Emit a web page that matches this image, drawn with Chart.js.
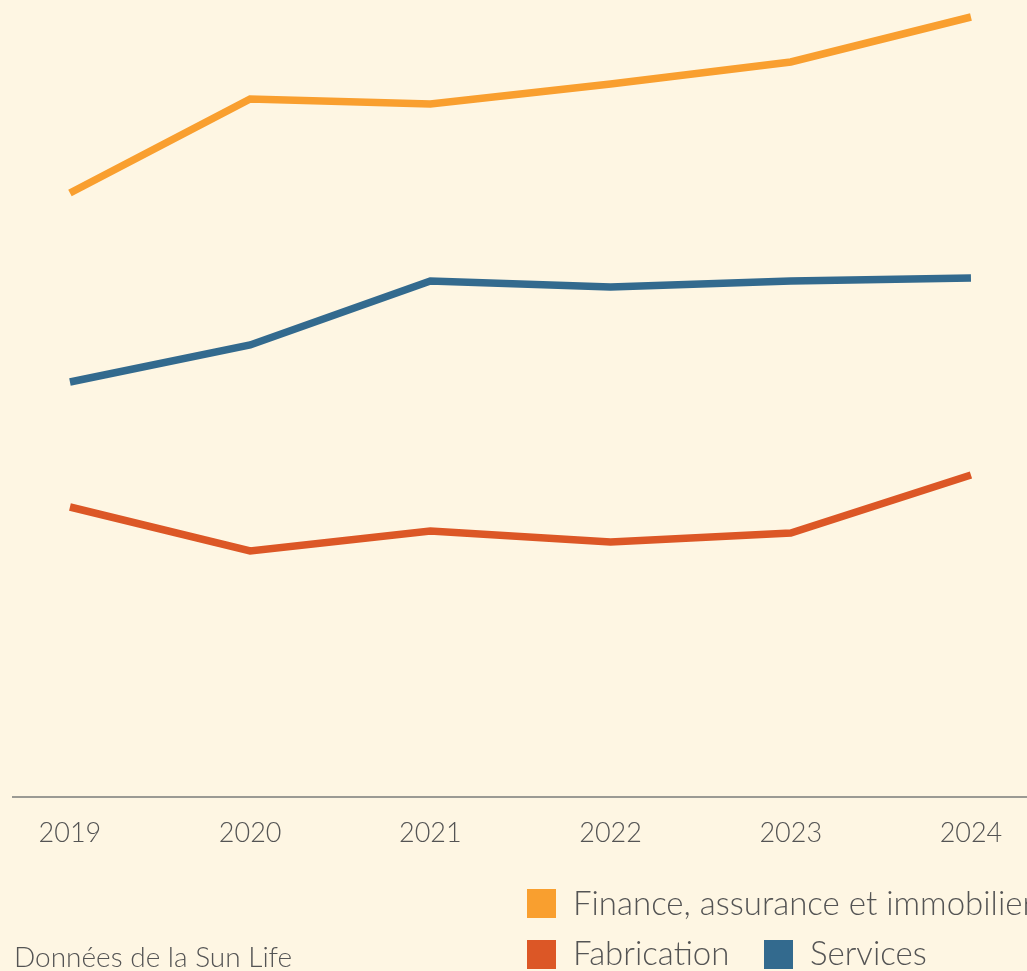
<!DOCTYPE html>
<html lang="fr">
<head>
<meta charset="utf-8">
<script src="https://cdn.jsdelivr.net/npm/chart.js@4.4.1/dist/chart.umd.min.js"></script>
<style>
  html, body { margin: 0; padding: 0; background: #fef6e3; overflow: hidden; }
  #wrap { position: relative; width: 1027px; height: 971px; overflow: hidden; }
  #chart { position: absolute; left: 0; top: 0; }
  .txt { position: absolute; font-family: "Lato", sans-serif; font-weight: 300; color: #545454; line-height: 1; white-space: nowrap; }
  .legend { font-size: 33px; }
  .swatch { position: absolute; width: 29px; height: 29px; }
  #source { left: 14px; top: 942px; font-size: 28px; }
</style>
</head>
<body>
<div id="wrap">
  <canvas id="chart" width="1027" height="971"></canvas>
  <div class="swatch" style="left:527px; top:889px; background:#f99f2f;"></div>
  <div class="txt legend" style="left:573px; top:886px;">Finance, assurance et immobilier</div>
  <div class="swatch" style="left:527px; top:940px; background:#dc5726;"></div>
  <div class="txt legend" style="left:573px; top:936px;">Fabrication</div>
  <div class="swatch" style="left:764px; top:940px; background:#336a8e;"></div>
  <div class="txt legend" style="left:810px; top:936px;">Services</div>
  <div class="txt" id="source">Données de la Sun Life</div>
</div>
<script>
// Years on the horizontal axis
const years = [2019, 2020, 2021, 2022, 2023, 2024];

// Series values
const finance = [60.4, 69.8, 69.3, 71.3, 73.5, 78.0];
const services = [41.5, 45.2, 51.6, 51.0, 51.6, 51.9];
const fabrication = [29.0, 24.6, 26.6, 25.5, 26.4, 32.2];

const toPoints = vals => vals.map((v, i) => ({ x: years[i], y: v }));

const lineStyle = {
  borderWidth: 7.5,
  pointRadius: 0,
  pointHoverRadius: 0,
  tension: 0,
  borderCapStyle: 'butt',
  borderJoinStyle: 'miter',
  fill: false
};

new Chart(document.getElementById('chart'), {
  type: 'line',
  data: {
    datasets: [
      { label: 'Finance, assurance et immobilier', data: toPoints(finance), borderColor: '#f99f2f', ...lineStyle },
      { label: 'Services', data: toPoints(services), borderColor: '#336a8e', ...lineStyle },
      { label: 'Fabrication', data: toPoints(fabrication), borderColor: '#dc5726', ...lineStyle }
    ]
  },
  options: {
    responsive: false,
    animation: false,
    layout: { padding: { left: 13, right: 0, top: 7, bottom: 122 } },
    plugins: { legend: { display: false }, tooltip: { enabled: false } },
    scales: {
      x: {
        type: 'linear',
        min: 2018.684,
        max: 2024.311,
        afterBuildTicks: scale => { scale.ticks = years.map(v => ({ value: v })); },
        afterFit: scale => { scale.height = 52; },
        grid: { display: false, drawTicks: false },
        border: { display: true, color: '#9b9a94', width: 2 },
        ticks: {
          padding: 20,
          color: '#545454',
          font: { family: 'Lato', weight: '300', size: 27 },
          callback: v => String(v),
          maxRotation: 0,
          autoSkip: false
        }
      },
      y: {
        display: false,
        min: 0,
        max: 79
      }
    }
  }
});
</script>
</body>
</html>
